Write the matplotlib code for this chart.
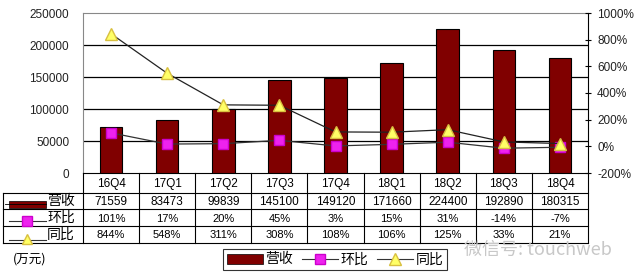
import matplotlib
matplotlib.use("Agg")
import matplotlib.pyplot as plt
from matplotlib.lines import Line2D
from matplotlib.patches import Rectangle

plt.rcParams['font.family'] = ['Liberation Sans', 'Noto Sans CJK SC', 'DejaVu Sans']

categories = ['16Q4', '17Q1', '17Q2', '17Q3', '17Q4', '18Q1', '18Q2', '18Q3', '18Q4']
revenue = [71559, 83473, 99839, 145100, 149120, 171660, 224400, 192890, 180315]
qoq = [101, 17, 20, 45, 3, 15, 31, -14, -7]
yoy = [844, 548, 311, 308, 108, 106, 125, 33, 21]
row_labels = ['营收', '环比', '同比']
left_ticks = [0, 50000, 100000, 150000, 200000, 250000]
right_ticks = [-200, 0, 200, 400, 600, 800, 1000]

W, H = 640, 279
fig = plt.figure(figsize=(W / 100, H / 100), dpi=100)

def fx(x):
    return x / W

def fy(y):
    return 1 - y / H

L, R, T, B = 83, 588, 13, 173
ax = fig.add_axes([fx(L), fy(B), (R - L) / W, (B - T) / H])
n = len(categories)
xs = list(range(n))

bar_c = '#800000'
ax.bar(xs, revenue, width=0.4, color=bar_c, edgecolor='black', linewidth=0.8, zorder=3)
ax.set_xlim(-0.5, n - 0.5)
ax.set_ylim(0, 250000)
ax.set_yticks(left_ticks)
ax.set_yticklabels([str(v) for v in left_ticks], fontsize=8.5, color='#222222')
ax.tick_params(axis='y', length=0, pad=10)
ax.set_xticks([])
for v in left_ticks[1:-1]:
    ax.axhline(v, color='black', lw=0.9, zorder=1)
for s in ['left', 'top']:
    ax.spines[s].set_color('#888888')
    ax.spines[s].set_linewidth(0.8)
ax.spines['right'].set_visible(False)
ax.spines['bottom'].set_color('black')

ax2 = ax.twinx()
ax2.set_ylim(-200, 1000)
ax2.set_yticks(right_ticks)
ax2.set_yticklabels([f'{v}%' for v in right_ticks], fontsize=8.5, color='#222222')
ax2.tick_params(axis='y', direction='inout', length=5, width=0.8, pad=4)
ax2.spines['right'].set_color('black')
ax2.spines['right'].set_linewidth(0.8)
for s in ['left', 'top', 'bottom']:
    ax2.spines[s].set_visible(False)

ax2.plot(xs, qoq, color='#333333', lw=0.9, marker='s', markersize=7,
         markerfacecolor='#ee22ee', markeredgecolor='#cc00cc', zorder=4)
ax2.plot(xs, yoy, color='#222222', lw=0.9, marker='^', markersize=8,
         markerfacecolor='#ffff66', markeredgecolor='#d8c040', zorder=5)

# ---- data table ----
col_w = (R - L) / n
row_y = [B, 193, 209, 226, 243]
lc = 'black'
lw = 0.8

def hline(x0, x1, y):
    fig.add_artist(Line2D([fx(x0), fx(x1)], [fy(y), fy(y)], color=lc, lw=lw))

def vline(x, y0, y1):
    fig.add_artist(Line2D([fx(x), fx(x)], [fy(y0), fy(y1)], color=lc, lw=lw))

TL = 3
hline(TL, R, row_y[1])
hline(TL, R, row_y[2])
hline(TL, R, row_y[3])
hline(TL, R, row_y[4])
vline(TL, row_y[1], row_y[4])
for i in range(n + 1):
    vline(L + i * col_w, B, row_y[4])

for i, c in enumerate(categories):
    cx = L + (i + 0.5) * col_w
    fig.text(fx(cx), fy((row_y[0] + row_y[1]) / 2 + 1), c, ha='center', va='center', fontsize=8.5)
    fig.text(fx(cx), fy((row_y[1] + row_y[2]) / 2 + 1), str(revenue[i]), ha='center', va='center', fontsize=8.5)
    fig.text(fx(cx), fy((row_y[2] + row_y[3]) / 2 + 1), f'{qoq[i]}%', ha='center', va='center', fontsize=8)
    fig.text(fx(cx), fy((row_y[3] + row_y[4]) / 2 + 1), f'{yoy[i]}%', ha='center', va='center', fontsize=8)

# row header symbols
ym = [(row_y[k] + row_y[k + 1]) / 2 for k in range(1, 4)]
fig.add_artist(Line2D([fx(5), fx(46)], [fy(ym[0] + 3), fy(ym[0] + 3)], color='black', lw=0.6))
fig.add_artist(Rectangle((fx(9), fy(ym[0] + 6.5)), (46 - 9) / W, 7 / H, transform=fig.transFigure,
                         facecolor=bar_c, edgecolor='black', lw=0.5))
fig.add_artist(Line2D([fx(9), fx(46)], [fy(ym[1] + 3), fy(ym[1] + 3)], color='#333333', lw=0.8))
fig.add_artist(Line2D([fx(27)], [fy(ym[1] + 3)], marker='s', markersize=6.5, markerfacecolor='#ee22ee',
                      markeredgecolor='#cc00cc', lw=0))
fig.add_artist(Line2D([fx(9), fx(46)], [fy(ym[2] + 5), fy(ym[2] + 5)], color='#333333', lw=0.8))
fig.add_artist(Line2D([fx(27)], [fy(ym[2] + 4)], marker='^', markersize=7.5, markerfacecolor='#ffff66',
                      markeredgecolor='#d8c040', lw=0))
for k, lab in enumerate(row_labels):
    fig.text(fx(47), fy(ym[k] + 0.5), lab, ha='left', va='center', fontsize=10,
             family=['Noto Sans CJK SC'])

fig.text(fx(13), fy(259), '(万元)', ha='left', va='center', fontsize=9, family=['Noto Sans CJK SC'])

# legend
h1 = Rectangle((0, 0), 1, 1, facecolor=bar_c, edgecolor='black', lw=0.5)
h2 = Line2D([], [], color='#333333', lw=0.8, marker='s', markersize=7,
            markerfacecolor='#ee22ee', markeredgecolor='#cc00cc')
h3 = Line2D([], [], color='#333333', lw=0.8, marker='^', markersize=8,
            markerfacecolor='#ffff66', markeredgecolor='#d8c040')
leg = fig.legend([h1, h2, h3], row_labels, ncol=3, loc='center',
                 bbox_to_anchor=(fx(335), fy(259.5)), frameon=True, fancybox=False,
                 edgecolor='black', fontsize=10, handlelength=2.6, handletextpad=0.2,
                 columnspacing=0.6, borderpad=0.25, borderaxespad=0,
                 prop={'family': ['Noto Sans CJK SC'], 'size': 10})
leg.get_frame().set_linewidth(0.8)

# watermark
fig.text(fx(464), fy(250), '微信号: touchweb', ha='left', va='center', fontsize=13,
         color='#c8c8c8', family=['Noto Sans CJK SC', 'DejaVu Sans'])

fig.savefig('out.png', dpi=100)
